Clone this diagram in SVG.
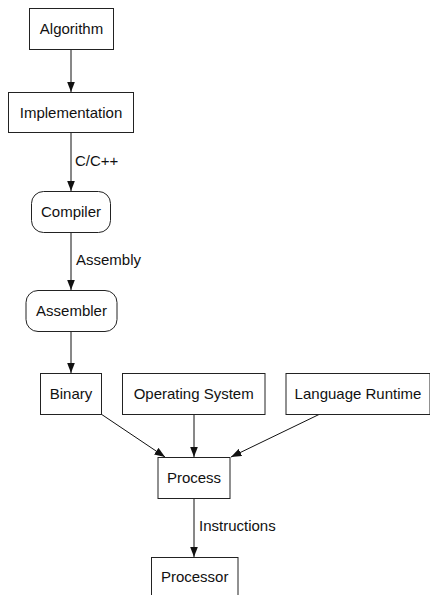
<svg xmlns="http://www.w3.org/2000/svg" width="430" height="595" viewBox="0 0 430 595">
<style>
.n{fill:#fff;stroke:#222;stroke-width:1}
.t{font-family:"Liberation Sans",Arial,sans-serif;font-size:15px;fill:#111;text-anchor:middle}
.l{font-family:"Liberation Sans",Arial,sans-serif;font-size:15px;fill:#111;text-anchor:start}
.e{stroke:#111;stroke-width:1;fill:none;marker-end:url(#ah)}
</style>
<defs>
<marker id="ah" markerUnits="userSpaceOnUse" markerWidth="11" markerHeight="8" refX="10.5" refY="4" orient="auto">
<path d="M0,0 L10.5,4 L0,8 z" fill="#111"/>
</marker>
</defs>
<rect width="430" height="595" fill="#fff"/>
<g id="connectors">
<line class="e" x1="71" y1="49" x2="71" y2="92"/>
<line class="e" x1="71" y1="132" x2="71" y2="191"/>
<text class="l" x="75" y="166">C/C++</text>
<line class="e" x1="71" y1="232" x2="71" y2="290"/>
<text class="l" x="76" y="265">Assembly</text>
<line class="e" x1="71" y1="331" x2="71" y2="373"/>
<line class="e" x1="101" y1="414" x2="165" y2="457"/>
<line class="e" x1="194" y1="414" x2="194" y2="457"/>
<line class="e" x1="320" y1="414" x2="231" y2="457"/>
<line class="e" x1="194" y1="498" x2="194" y2="557"/>
<text class="l" x="199" y="531">Instructions</text>
</g>
<g id="algorithm"><rect class="n" x="29.5" y="8.5" width="84" height="41"/><text class="t" x="71.5" y="34">Algorithm</text></g>
<g id="implementation"><rect class="n" x="8.5" y="92.5" width="125" height="40"/><text class="t" x="71" y="117.5">Implementation</text></g>
<g id="compiler"><rect class="n" x="31.5" y="191.5" width="79" height="41" rx="12" ry="12"/><text class="t" x="71" y="217">Compiler</text></g>
<g id="assembler"><rect class="n" x="26" y="290.5" width="91" height="41" rx="12" ry="12"/><text class="t" x="71.5" y="316">Assembler</text></g>
<g id="binary"><rect class="n" x="40.5" y="373.5" width="61" height="41"/><text class="t" x="71" y="399">Binary</text></g>
<g id="operating-system"><rect class="n" x="122.5" y="373.5" width="142.5" height="41"/><text class="t" x="193.7" y="399">Operating System</text></g>
<g id="language-runtime"><rect class="n" x="286" y="373.5" width="144" height="41"/><text class="t" x="358" y="399">Language Runtime</text></g>
<g id="process"><rect class="n" x="158" y="457.5" width="72" height="41"/><text class="t" x="194" y="482.5">Process</text></g>
<g id="processor"><rect class="n" x="151.5" y="557.5" width="86.5" height="45"/><text class="t" x="194.7" y="582">Processor</text></g>
</svg>
